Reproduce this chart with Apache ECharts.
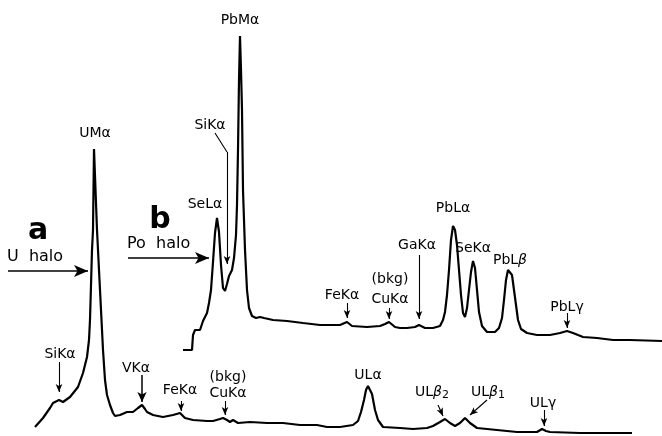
<!DOCTYPE html>
<html><head><meta charset="utf-8">
<script src="https://cdn.jsdelivr.net/npm/echarts@6/dist/echarts.min.js"></script>
<style>html,body{margin:0;padding:0;background:#fff}#c{width:662px;height:436px}</style>
</head><body><div id="c"></div>
<script>
// Spectrum a (U halo): energy channel and counts
const aChannel = [35,43,50,53,59,63,70,78,83,87,89,90,92,93,94,96,97,99,101,102,103,105,107,110,113,115,120,127,133,138,142,145,147,153,163,173,180,185,193,207,213,220,223,227,230,233,238,250,267,283,300,317,327,340,353,358,361,364,366,368,370,372,375,378,383,400,413,427,433,440,445,450,455,460,465,470,477,497,517,537,542,546,550,580,613,632];
const aCounts  = [9,18,28,33,36,34,39,49,63,79,96,116,186,206,287,233,206,166,126,106,86,56,41,31,23,20,21,24,24,28,31,27,24,21,19,21,23,18,16,15,15,17,18,16,14,16,13,14,13,13,11,11,9,9,11,15,24,36,46,50,48,42,26,16,9,8,7,8,10,14,17,13,10,13,18,13,8,6,4,4,7,5,4,3,3,3];
// Spectrum b (Po halo)
const bChannel = [183,192,193,195,200,203,207,209,211,213,215,217,219,221,223,225,227,229,232,234,236,237,238,239,240,241,242,243,245,247,249,252,256,260,264,273,287,303,320,330,340,347,352,367,380,385,389,395,400,407,415,419,425,433,440,443,445,447,449,451,453,455,457,459,461,463,465,467,469,471,473,475,477,479,482,487,495,499,502,504,506,508,510,512,514,516,518,521,527,537,550,560,567,573,583,597,613,630,662];
const bCounts  = [86,86,101,106,106,115,123,133,146,174,203,218,204,171,148,145,152,160,166,178,201,231,286,356,400,366,326,246,186,146,128,120,118,119,118,116,115,113,111,111,111,114,110,109,110,112,114,109,108,108,109,111,108,108,110,116,124,141,166,196,210,206,191,166,141,123,119,128,146,164,175,168,146,124,110,104,104,108,118,136,156,166,168,161,146,131,116,107,103,101,101,103,105,103,99,98,96,96,95];

// Arrows: [from channel, from counts, to channel, to counts, head]
const arrows = [
  [8,165,88,165,'big'],
  [128,178,209,178,'big'],
  [215,303,227,284,'none'],
  [227,284,227,172,'small'],
  [59,74,59,44,'small'],
  [142,61,142,34,'mid'],
  [181,35,181,25,'small'],
  [225,35,225,21,'small'],
  [438,31,443,20,'small'],
  [487,36,470,21,'small'],
  [544,26,544,10,'small'],
  [347,133,347,118,'small'],
  [389,128,389,117,'small'],
  [419,181,419,117,'small'],
  [567,123,567,108,'small']
];
// Peak labels
const labels = [
  ['UMα',95,133],['PbMα',240,20],['SiKα',210,125],['SeLα',205,204],
  ['SiKα',60,354],['VKα',136,368],['FeKα',180,390],['(bkg)',228,377],['CuKα',228,393],
  ['ULα',368,375],['UL{i|β}{s|2}',432,392],['UL{i|β}{s|1}',488,392],['ULγ',543,403],
  ['FeKα',342,295],['(bkg)',390,279],['CuKα',390,299],['GaKα',417,245],
  ['PbLα',453,208],['SeKα',473,248],['PbL{i|β}',510,260],['PbLγ',567,307]
];

const chart = echarts.init(document.getElementById('c'), null, {renderer:'canvas'});
const zip = (xs, ys) => xs.map((x,i)=>[x,ys[i]]);
const headSize = {big:[9,14], mid:[7,10], small:[5,8], none:0};
const markData = arrows.map(a => [
  {coord:[a[0],a[1]], symbol:'none'},
  {coord:[a[2],a[3]], symbol: a[4]==='none'?'none':'arrow', symbolSize: headSize[a[4]] || 1,
   lineStyle:{width: a[4]==='big'?1.6:(a[4]==='mid'?1.5:1.1)}}
]);
const FONT = '"DejaVu Sans", sans-serif';
const rich = {i:{fontFamily:FONT,fontSize:14,fontStyle:'italic',fill:'#000'}, s:{fontFamily:FONT,fontSize:11,verticalAlign:'bottom',padding:[7,0,0,0],fill:'#000'}};
const graphics = labels.map(l => ({
  type:'text', x:l[1], y:l[2],
  style:{text:l[0], fontFamily:FONT, fontSize:14, fill:'#000', textAlign:'center', textVerticalAlign:'middle', rich:rich}
}));
graphics.push(
  {type:'text', x:38, y:231, style:{text:'a', fontFamily:FONT, fontSize:30, fontWeight:'bold', fill:'#000', textAlign:'center', textVerticalAlign:'middle'}},
  {type:'text', x:160, y:220, style:{text:'b', fontFamily:FONT, fontSize:30, fontWeight:'bold', fill:'#000', textAlign:'center', textVerticalAlign:'middle'}},
  {type:'text', x:7, y:257, style:{text:'U  halo', fontFamily:FONT, fontSize:16, fill:'#000', textAlign:'left', textVerticalAlign:'middle'}},
  {type:'text', x:127, y:244, style:{text:'Po  halo', fontFamily:FONT, fontSize:16, fill:'#000', textAlign:'left', textVerticalAlign:'middle'}}
);

chart.setOption({
  animation:false,
  backgroundColor:'#fff',
  grid:{left:0,right:0,top:0,bottom:0},
  xAxis:{type:'value',min:0,max:662,show:false},
  yAxis:{type:'value',min:0,max:436,show:false},
  series:[
    {type:'line', name:'a', data:zip(aChannel,aCounts), showSymbol:false, symbol:'none',
     lineStyle:{color:'#000',width:2.2}, smooth:false},
    {type:'line', name:'b', data:zip(bChannel,bCounts), showSymbol:false, symbol:'none',
     lineStyle:{color:'#000',width:2.2}, smooth:false,
     markLine:{silent:true, animation:false, label:{show:false}, lineStyle:{color:'#000',type:'solid',width:1},
       emphasis:{disabled:true}, data:markData}}
  ],
  graphic:graphics
});
</script></body></html>
